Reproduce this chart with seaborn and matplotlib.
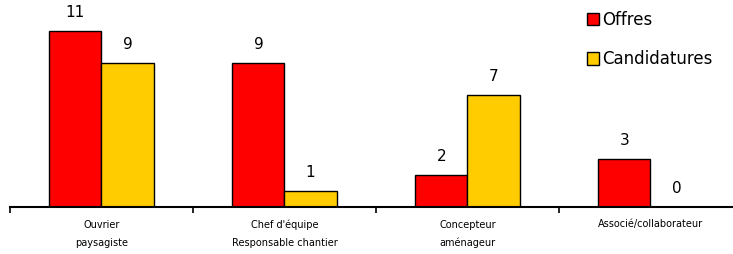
import matplotlib
matplotlib.use("Agg")
import matplotlib.pyplot as plt
import seaborn as sns
import pandas as pd
from matplotlib.patches import Patch

categories = ["Ouvrier\npaysagiste", "Chef d'équipe\nResponsable chantier",
              "Concepteur\naménageur", "Associé/collaborateur"]
offres = [11, 9, 2, 3]
candidatures = [9, 1, 7, 0]
series = ["Offres", "Candidatures"]
colors = ["#ff0000", "#ffcc00"]

df = pd.DataFrame({
    "poste": categories * 2,
    "nombre": offres + candidatures,
    "type": [series[0]] * len(categories) + [series[1]] * len(categories),
})

sns.set_style("white")
plt.rcParams['font.family'] = ['DejaVu Sans']
plt.rcParams['text.color'] = 'black'
plt.rcParams['xtick.color'] = 'black'

W, H = 733, 254
fig = plt.figure(figsize=(W / 100, H / 100), dpi=100)
ax = fig.add_axes([10 / W, (H - 207) / H, 4 * 183 / W, 192 / H])

sns.barplot(data=df, x="poste", y="nombre", hue="type", palette=colors,
            edgecolor="black", linewidth=1, width=0.57, ax=ax, legend=False,
            saturation=1)

ax.set_xlim(-0.5, 3.5)
ax.set_ylim(0, 12)
for c in ax.containers:
    ax.bar_label(c, padding=8, fontsize=11, color="black")

for s in ["left", "right", "top"]:
    ax.spines[s].set_visible(False)
ax.spines["bottom"].set_linewidth(1.5)
ax.spines["bottom"].set_color("black")
ax.set_yticks([])
ax.set_xlabel("")
ax.set_ylabel("")
ax.set_xticks(range(len(categories)))
ax.set_xticklabels(categories, fontsize=7, linespacing=2.0, color="black")
ax.tick_params(axis="x", which="major", length=0, pad=9, bottom=True)
ax.set_xticks([i - 0.5 for i in range(len(categories) + 1)], minor=True)
ax.tick_params(axis="x", which="minor", length=4, width=1.2, direction="out",
               color="black", bottom=True)

handles = [Patch(facecolor=colors[i], edgecolor="black", label=series[i]) for i in range(2)]
fig.legend(handles=handles, loc="upper left", bbox_to_anchor=(580 / W, 1 - 4 / H),
           frameon=False, fontsize=12, handlelength=0.75, handleheight=0.75,
           handletextpad=0.15, labelspacing=1.3, borderaxespad=0, labelcolor="black")

fig.savefig("out.png", dpi=100)
